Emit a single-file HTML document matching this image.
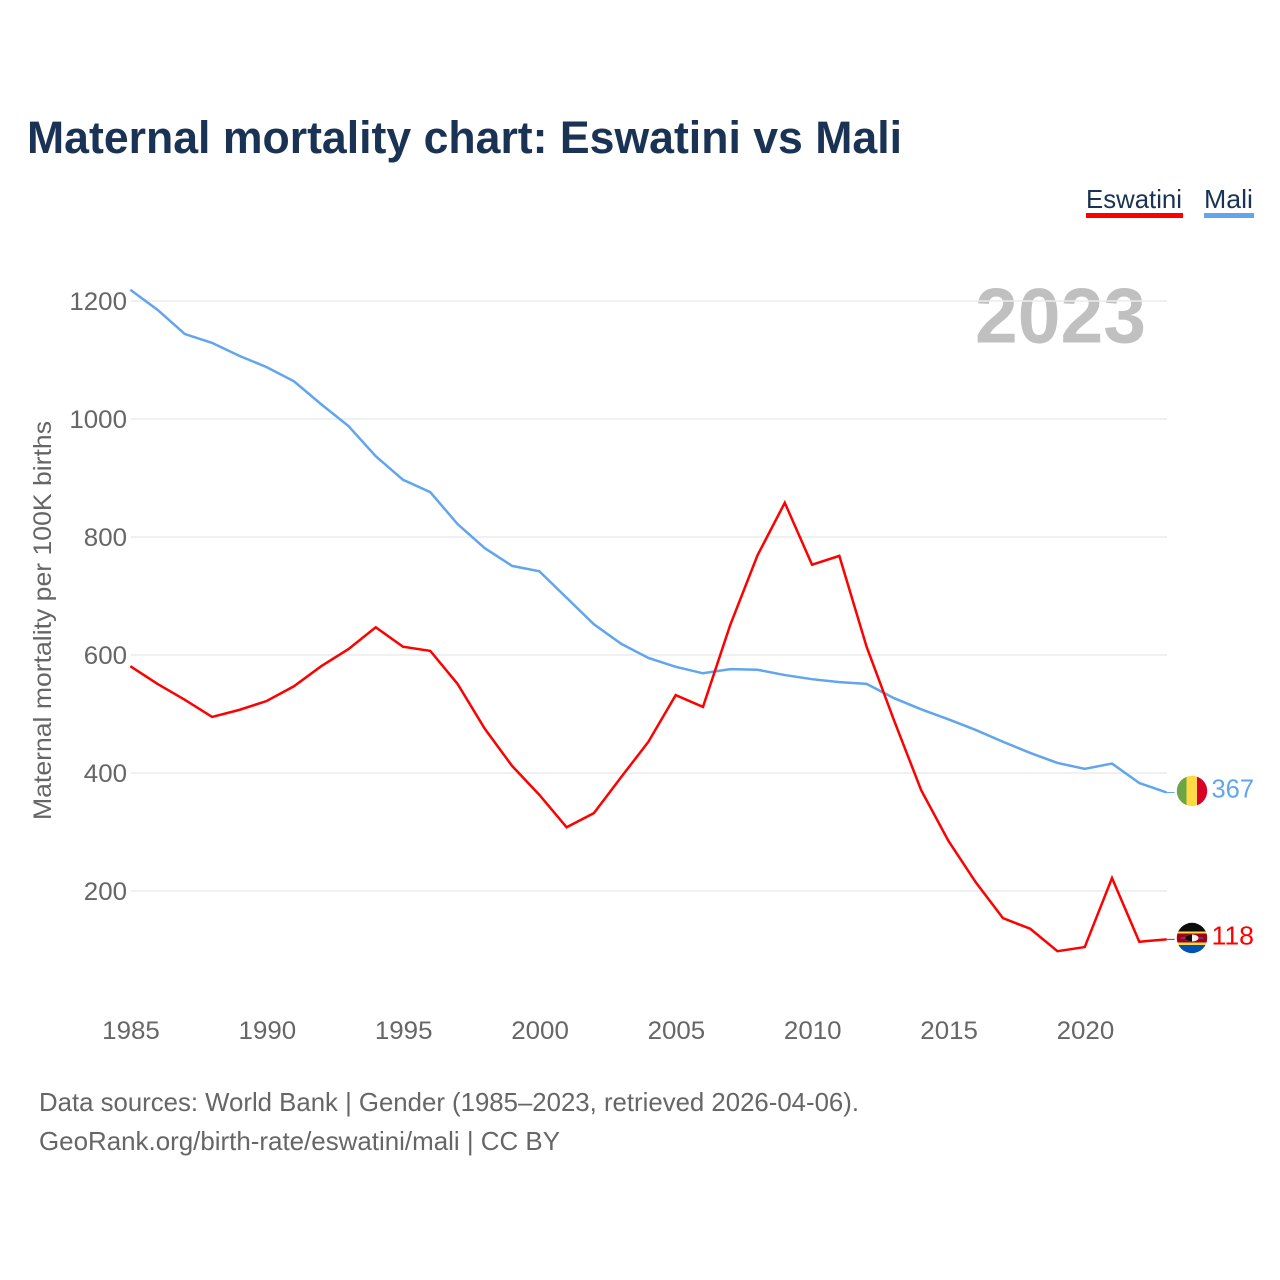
<!DOCTYPE html>
<html lang="en">
<head>
<meta charset="utf-8">
<title>Maternal mortality chart: Eswatini vs Mali</title>
<style>
html,body{margin:0;padding:0;background:#fff;width:1280px;height:1280px;overflow:hidden}
svg{display:block;font-family:"Liberation Sans",sans-serif}
</style>
</head>
<body>
<svg id="chart" xmlns="http://www.w3.org/2000/svg" width="1280" height="1280" viewBox="0 0 1280 1280">
  <rect width="1280" height="1280" fill="#fff"/>
  <text x="27" y="153" font-size="45" font-weight="700" fill="#1a3253" textLength="875" lengthAdjust="spacingAndGlyphs">Maternal mortality chart: Eswatini vs Mali</text>

  <g>
    <g>
      <text x="1086" y="208" font-size="26" fill="#1a3253" textLength="96" lengthAdjust="spacingAndGlyphs">Eswatini</text>
      <rect x="1086" y="213" width="97" height="5" fill="#ff0000"/>
    </g>
    <g>
      <text x="1204" y="208" font-size="26" fill="#1a3253" textLength="49" lengthAdjust="spacingAndGlyphs">Mali</text>
      <rect x="1204" y="213" width="50" height="5" fill="#60a5ee"/>
    </g>
  </g>

  <text x="975" y="342.5" font-size="78" font-weight="700" fill="#c0c0c0" textLength="171" lengthAdjust="spacingAndGlyphs">2023</text>
  <text transform="translate(51 820) rotate(-90)" x="0" y="0" font-size="25" fill="#666" textLength="399" lengthAdjust="spacingAndGlyphs">Maternal mortality per 100K births</text>

  <g id="grid"></g>
  <g id="yTicks"></g>
  <g id="xTicks"></g>
  <g id="lines"></g>

  <defs>
    <clipPath id="clip-mali"><circle cx="1192" cy="791" r="15.2"/></clipPath>
    <clipPath id="clip-esw"><circle cx="1192" cy="938" r="15.2"/></clipPath>
  </defs>
  <g id="flagMali" clip-path="url(#clip-mali)">
    <rect x="1176" y="775" width="11" height="32" fill="#6da544"/>
    <rect x="1186.5" y="775" width="10.5" height="32" fill="#ffda44"/>
    <rect x="1197" y="775" width="11" height="32" fill="#d80027"/>
  </g>
  <g id="flagEswatini" clip-path="url(#clip-esw)">
    <rect x="1176" y="922" width="32" height="10" fill="#0d0d0d"/>
    <rect x="1176" y="931.5" width="32" height="13.5" fill="#ffda44"/>
    <rect x="1176" y="933.5" width="32" height="9" fill="#a2001d"/>
    <rect x="1176" y="945" width="32" height="10" fill="#0052b4"/>
    <ellipse cx="1192" cy="938" rx="6.5" ry="3.5" fill="#f4f4f4"/>
    <path d="M1192 934.5a6.5 3.5 0 0 0 0 7z" fill="#111"/>
    <rect x="1181" y="937.4" width="4" height="1.2" fill="#2a6fc0"/>
    <rect x="1199" y="937.4" width="4" height="1.2" fill="#2a6fc0"/>
  </g>
  <g id="endLabels"></g>

  <text x="39" y="1111" font-size="26" fill="#666" textLength="820" lengthAdjust="spacingAndGlyphs">Data sources: World Bank | Gender (1985–2023, retrieved 2026-04-06).</text>
  <text x="39" y="1150" font-size="26" fill="#666" textLength="521" lengthAdjust="spacingAndGlyphs">GeoRank.org/birth-rate/eswatini/mali | CC BY</text>
</svg>
<script>
const years = [1985,1986,1987,1988,1989,1990,1991,1992,1993,1994,1995,1996,1997,1998,1999,2000,2001,2002,2003,2004,2005,2006,2007,2008,2009,2010,2011,2012,2013,2014,2015,2016,2017,2018,2019,2020,2021,2022,2023];
const maliValues = [1219,1185,1144,1129,1107,1088,1064,1025,988,937,897,876,822,781,751,742,697,652,619,595,580,569,576,575,566,559,554,551,527,508,491,473,453,434,417,407,416,383,367];
const eswatiniValues = [581,551,524,495,507,522,547,581,610,647,614,607,551,475,412,363,308,332,393,453,532,512,651,769,858,753,768,614,490,371,285,215,154,136,98,105,222,114,118];
const yTickValues = [200,400,600,800,1000,1200];
const xTickValues = [1985,1990,1995,2000,2005,2010,2015,2020];

const NS = 'http://www.w3.org/2000/svg';
const xScale = year => 130.3 + (year - 1985) * 27.27;
const yScale = value => 1009 - value * 0.59;
const digitWidth = 14.4;

function make(tag, parent, attrs, text) {
  const el = document.createElementNS(NS, tag);
  for (const k in attrs) el.setAttribute(k, attrs[k]);
  if (text !== undefined) el.textContent = text;
  parent.appendChild(el);
  return el;
}

const grid = document.getElementById('grid');
const yTicks = document.getElementById('yTicks');
const xTicks = document.getElementById('xTicks');
const lines = document.getElementById('lines');
const endLabels = document.getElementById('endLabels');

yTickValues.forEach(v => {
  const gl = make('line', grid, {x1: 131, x2: 1167, y1: yScale(v), y2: yScale(v), stroke: '#ececec', 'stroke-width': 1.5});
  
  
  const s = String(v);
  const lab = make('text', yTicks, {x: 127, y: yScale(v) + 9, 'text-anchor': 'end', 'font-size': 25, fill: '#666', textLength: s.length * digitWidth, lengthAdjust: 'spacingAndGlyphs'}, s);
  
  
});

xTickValues.forEach(y => {
  const s = String(y);
  const lab = make('text', xTicks, {x: xScale(y) + 0.7, y: 1039, 'text-anchor': 'middle', 'font-size': 25, fill: '#666', textLength: s.length * digitWidth, lengthAdjust: 'spacingAndGlyphs'}, s);
  
  
});

function drawSeries(values, color, name) {
  const pts = values.map((v, i) => xScale(years[i]).toFixed(2) + ',' + yScale(v).toFixed(2)).join(' ');
  const line = make('polyline', lines, {points: pts, fill: 'none', stroke: color, 'stroke-width': 2.5, 'stroke-linejoin': 'miter'});
  
  
  const last = values[values.length - 1];
  const lastX = xScale(years[years.length - 1]);
  const stub = make('line', lines, {x1: lastX, x2: lastX + 8, y1: yScale(last), y2: yScale(last), stroke: color, 'stroke-width': 1});
  
  
  const s = String(last);
  const lab = make('text', endLabels, {x: 1254, y: yScale(last) + 5, 'text-anchor': 'end', 'font-size': 26, fill: color, textLength: 42.5, lengthAdjust: 'spacingAndGlyphs'}, s);
  
  
}
drawSeries(maliValues, '#60a5ee', 'mali');
drawSeries(eswatiniValues, '#ff0000', 'eswatini');
</script>
</body>
</html>
